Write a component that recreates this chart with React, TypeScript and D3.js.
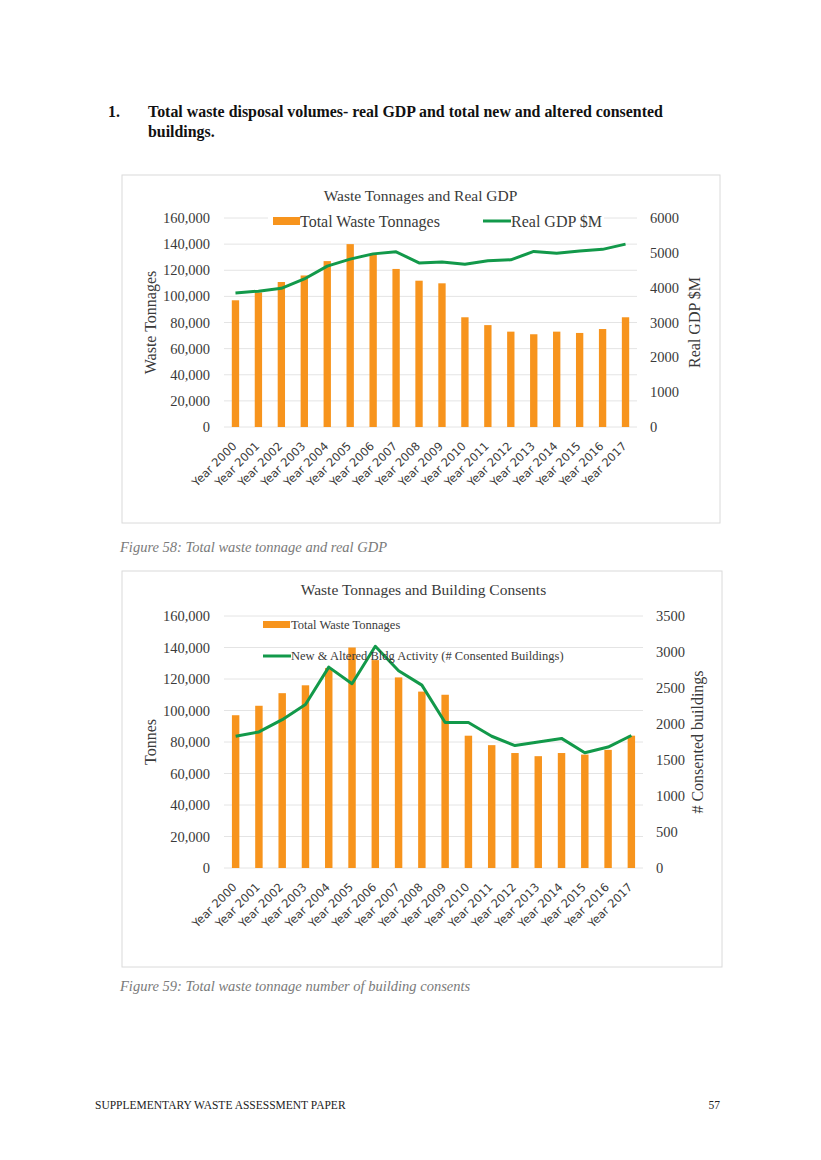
import React, { useEffect, useRef } from 'react'
import * as d3 from 'd3'

// categories and series
const years = [
  'Year 2000', 'Year 2001', 'Year 2002', 'Year 2003', 'Year 2004', 'Year 2005',
  'Year 2006', 'Year 2007', 'Year 2008', 'Year 2009', 'Year 2010', 'Year 2011',
  'Year 2012', 'Year 2013', 'Year 2014', 'Year 2015', 'Year 2016', 'Year 2017'
]
const wasteTonnages = [
  97000, 103000, 111000, 116000, 127000, 140000, 132000, 121000, 112000,
  110000, 84000, 78000, 73000, 71000, 73000, 72000, 75000, 84000
]
const realGdp = [
  3850, 3900, 3980, 4250, 4620, 4820, 4970, 5030, 4710,
  4740, 4670, 4770, 4800, 5040, 4990, 5050, 5100, 5250
]
const consentedBuildings = [
  1830, 1890, 2060, 2270, 2790, 2560, 3080, 2740, 2540,
  2020, 2020, 1830, 1700, 1750, 1800, 1600, 1680, 1840
]

const tonnageTicks = [0, 20000, 40000, 60000, 80000, 100000, 120000, 140000, 160000]
const gdpTicks = [0, 1000, 2000, 3000, 4000, 5000, 6000]
const consentTicks = [0, 500, 1000, 1500, 2000, 2500, 3000, 3500]

const BAR = '#F7941D'
const LINE = '#12994A'
const GRID = '#e4e4e4'
const TEXT = '#3a3a3a'
const SERIF = '"Liberation Serif", "Times New Roman", serif'
const SANS = '"DejaVu Sans", sans-serif'

type ChartCfg = {
  box: [number, number, number, number]
  left: number
  right: number
  top: number
  bottom: number
  title: string
  titleY: number
  leftTitle: string
  rightTitle: string
  rightTitleX: number
  line: number[]
  rightTicks: number[]
  rightLabelX: number
}

function drawCombo(svg: d3.Selection<SVGSVGElement, unknown, null, undefined>, cfg: ChartCfg) {
  const g = svg.append('g')
  const [bx, by, bw, bh] = cfg.box

  g.append('rect')
    .attr('x', bx).attr('y', by).attr('width', bw).attr('height', bh)
    .attr('fill', '#fff').attr('stroke', '#dadada').attr('stroke-width', 1)

  const x = d3.scaleBand<string>()
    .domain(years)
    .range([cfg.left, cfg.right])
    .paddingInner(0.68)
    .paddingOuter(0.34)
  const yL = d3.scaleLinear().domain([0, 160000]).range([cfg.bottom, cfg.top])
  const yR = d3.scaleLinear()
    .domain([0, cfg.rightTicks[cfg.rightTicks.length - 1]])
    .range([cfg.bottom, cfg.top])

  // gridlines
  g.selectAll('line.grid')
    .data(tonnageTicks)
    .enter()
    .append('line')
    .attr('x1', cfg.left).attr('x2', cfg.right)
    .attr('y1', d => yL(d)).attr('y2', d => yL(d))
    .attr('stroke', GRID).attr('stroke-width', 1)

  // left tick labels
  g.selectAll('text.yl')
    .data(tonnageTicks)
    .enter()
    .append('text')
    .attr('x', cfg.left - 14)
    .attr('y', d => yL(d))
    .attr('dy', '0.35em')
    .attr('text-anchor', 'end')
    .style('font-family', SERIF)
    .style('font-size', '14.5px')
    .attr('fill', TEXT)
    .text(d => d3.format(',')(d))

  // right tick labels
  g.selectAll('text.yr')
    .data(cfg.rightTicks)
    .enter()
    .append('text')
    .attr('x', cfg.rightLabelX)
    .attr('y', d => yR(d))
    .attr('dy', '0.35em')
    .style('font-family', SERIF)
    .style('font-size', '14.5px')
    .attr('fill', TEXT)
    .text(d => String(d))

  // bars
  g.selectAll('rect.bar')
    .data(wasteTonnages)
    .enter()
    .append('rect')
    .attr('x', (_, i) => x(years[i]) as number)
    .attr('y', d => yL(d))
    .attr('width', x.bandwidth())
    .attr('height', d => cfg.bottom - yL(d))
    .attr('fill', BAR)

  // line
  const line = d3.line<number>()
    .x((_, i) => (x(years[i]) as number) + x.bandwidth() / 2)
    .y(d => yR(d))
  g.append('path')
    .datum(cfg.line)
    .attr('d', line)
    .attr('fill', 'none')
    .attr('stroke', LINE)
    .attr('stroke-width', 3)
    .attr('stroke-linejoin', 'round')

  // x labels
  g.selectAll('text.xl')
    .data(years)
    .enter()
    .append('text')
    .attr('transform', d => `translate(${(x(d) as number) + x.bandwidth() / 2 - 1}, ${cfg.bottom + 17}) rotate(-45)`)
    .attr('text-anchor', 'end')
    .attr('dy', '0.35em')
    .style('font-family', SANS)
    .style('font-size', '11.5px')
    .attr('fill', TEXT)
    .text(d => d)

  // titles
  g.append('text')
    .attr('x', (cfg.left + cfg.right) / 2 - 10)
    .attr('y', cfg.titleY)
    .attr('text-anchor', 'middle')
    .style('font-family', SERIF)
    .style('font-size', '15.5px')
    .attr('fill', TEXT)
    .text(cfg.title)

  const midY = (cfg.top + cfg.bottom) / 2
  g.append('text')
    .attr('transform', `translate(156, ${midY}) rotate(-90)`)
    .attr('text-anchor', 'middle')
    .style('font-family', SERIF)
    .style('font-size', '16px')
    .attr('fill', TEXT)
    .text(cfg.leftTitle)

  g.append('text')
    .attr('transform', `translate(${cfg.rightTitleX}, ${midY}) rotate(-90)`)
    .attr('text-anchor', 'middle')
    .style('font-family', SERIF)
    .style('font-size', '16px')
    .attr('fill', TEXT)
    .text(cfg.rightTitle)

  return g
}

export default function App() {
  const svgRef = useRef<SVGSVGElement | null>(null)

  useEffect(() => {
    if (!svgRef.current) return
    const svg = d3.select(svgRef.current)
    svg.selectAll('*').remove()

    // page heading
    const heading = (x: number, y: number, t: string) =>
      svg.append('text')
        .attr('x', x).attr('y', y)
        .style('font-family', SERIF).style('font-size', '15.9px').style('font-weight', 'bold')
        .attr('fill', '#111')
        .text(t)
    heading(108, 117, '1.')
    heading(148, 117, 'Total waste disposal volumes- real GDP and total new and altered consented')
    heading(148, 137, 'buildings.')

    // chart 1
    const g1 = drawCombo(svg, {
      box: [122, 175, 598, 348],
      left: 224, right: 637, top: 218, bottom: 427,
      title: 'Waste Tonnages and Real GDP', titleY: 201,
      leftTitle: 'Waste Tonnages', rightTitle: 'Real GDP $M', rightTitleX: 700,
      line: realGdp, rightTicks: gdpTicks, rightLabelX: 650
    })
    g1.append('rect')
      .attr('x', 268).attr('y', 211).attr('width', 336).attr('height', 20)
      .attr('fill', '#fff')
    g1.append('rect')
      .attr('x', 273).attr('y', 217).attr('width', 27).attr('height', 8)
      .attr('fill', BAR)
    g1.append('text')
      .attr('x', 300).attr('y', 221).attr('dy', '0.35em')
      .style('font-family', SERIF).style('font-size', '16px')
      .attr('fill', TEXT)
      .text('Total Waste Tonnages')
    g1.append('line')
      .attr('x1', 483).attr('x2', 511).attr('y1', 221).attr('y2', 221)
      .attr('stroke', LINE).attr('stroke-width', 3)
    g1.append('text')
      .attr('x', 511).attr('y', 221).attr('dy', '0.35em')
      .style('font-family', SERIF).style('font-size', '16px')
      .attr('fill', TEXT)
      .text('Real GDP $M')

    svg.append('text')
      .attr('x', 120).attr('y', 552)
      .style('font-family', SERIF).style('font-size', '14.5px').style('font-style', 'italic')
      .attr('fill', '#7a7a7a')
      .text('Figure 58: Total waste tonnage and real GDP')

    // chart 2
    const g2 = drawCombo(svg, {
      box: [122, 571, 600, 396],
      left: 224, right: 643, top: 616, bottom: 868,
      title: 'Waste Tonnages and Building Consents', titleY: 595,
      leftTitle: 'Tonnes', rightTitle: '# Consented buildings', rightTitleX: 703,
      line: consentedBuildings, rightTicks: consentTicks, rightLabelX: 656
    })
    g2.append('rect')
      .attr('x', 263).attr('y', 621).attr('width', 27).attr('height', 7)
      .attr('fill', BAR)
    g2.append('text')
      .attr('x', 291).attr('y', 625).attr('dy', '0.35em')
      .style('font-family', SERIF).style('font-size', '12.5px')
      .attr('fill', TEXT)
      .text('Total Waste Tonnages')
    g2.append('line')
      .attr('x1', 263).attr('x2', 291).attr('y1', 656).attr('y2', 656)
      .attr('stroke', LINE).attr('stroke-width', 3)
    g2.append('text')
      .attr('x', 291).attr('y', 656).attr('dy', '0.35em')
      .style('font-family', SERIF).style('font-size', '12.5px')
      .attr('fill', TEXT)
      .text('New & Altered Bldg Activity (# Consented Buildings)')

    svg.append('text')
      .attr('x', 120).attr('y', 991)
      .style('font-family', SERIF).style('font-size', '14.5px').style('font-style', 'italic')
      .attr('fill', '#7a7a7a')
      .text('Figure 59: Total waste tonnage number of building consents')

    // footer
    svg.append('text')
      .attr('x', 95).attr('y', 1109)
      .style('font-family', SERIF).style('font-size', '11.5px')
      .attr('fill', '#222')
      .text('SUPPLEMENTARY WASTE ASSESSMENT PAPER')
    svg.append('text')
      .attr('x', 720).attr('y', 1109)
      .attr('text-anchor', 'end')
      .style('font-family', SERIF).style('font-size', '11.5px')
      .attr('fill', '#222')
      .text('57')
  }, [])

  return (
    <svg
      ref={svgRef}
      width={821}
      height={1160}
      style={{ position: 'absolute', left: 0, top: 0, background: '#fff' }}
    />
  )
}
